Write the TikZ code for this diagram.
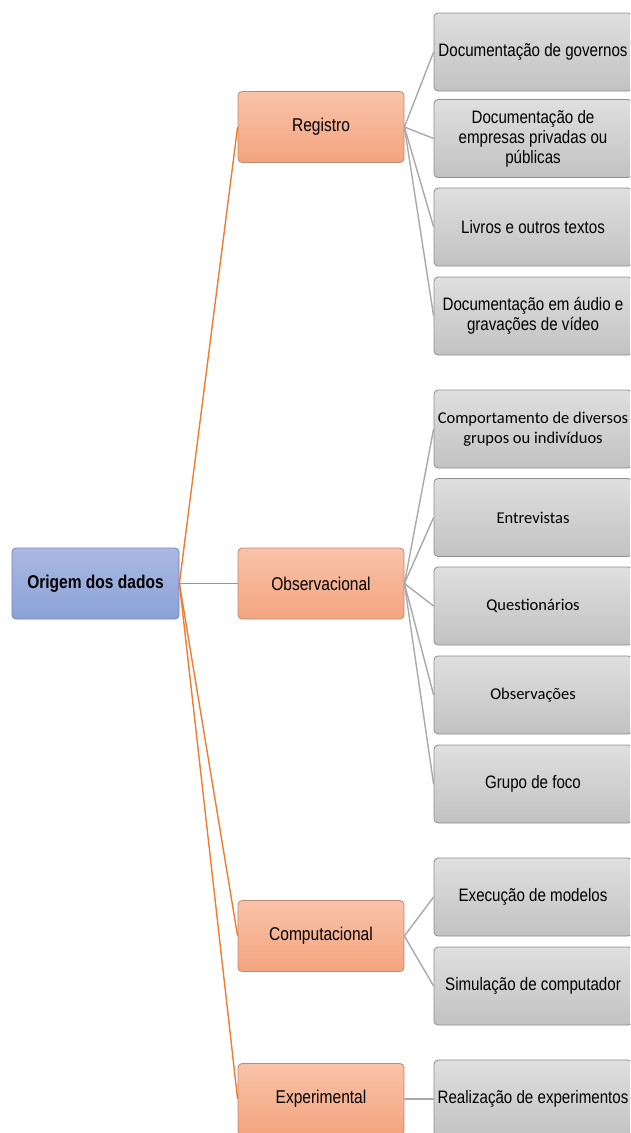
\documentclass[tikz,border=0pt]{standalone}
\usepackage{fontspec}
\setmainfont{Liberation Sans}[FakeStretch=0.84]
\newfontfamily\calib{Carlito}
\definecolor{azulA}{HTML}{AAB9E1}
\definecolor{azulB}{HTML}{8BA2D8}
\definecolor{azulBorda}{HTML}{7484AD}
\definecolor{salmaoA}{HTML}{F9C3A9}
\definecolor{salmaoB}{HTML}{F4A47F}
\definecolor{salmaoBorda}{HTML}{BE8A74}
\definecolor{cinzaA}{HTML}{DFDFDF}
\definecolor{cinzaB}{HTML}{C2C2C2}
\definecolor{cinzaBorda}{HTML}{8E8E8E}
\definecolor{laranja}{HTML}{ED7D31}
\definecolor{linhaCinza}{HTML}{A9A9A9}
\begin{document}
\begin{tikzpicture}[x=1pt,y=-1pt,
    raiz/.style={draw=azulBorda,line width=0.8pt,rounded corners=4pt,top color=azulA,bottom color=azulB,
        minimum width=167pt,minimum height=71pt,font=\fontsize{18.5}{20}\selectfont\bfseries},
    tipo/.style={draw=salmaoBorda,line width=0.8pt,rounded corners=4pt,top color=salmaoA,bottom color=salmaoB,
        minimum width=166pt,minimum height=71pt,font=\fontsize{18.5}{20}\selectfont},
    folha/.style={draw=cinzaBorda,line width=0.8pt,rounded corners=4pt,top color=cinzaA,bottom color=cinzaB,
        minimum width=198pt,minimum height=78pt,align=center,inner sep=1pt,
        font=\fontsize{18}{20}\selectfont},
    folhac/.style={folha,font=\calib\fontsize{16.5}{20}\selectfont},
    ramo/.style={laranja,line width=1.4pt},
    galho/.style={linhaCinza,line width=1.4pt}]
    \useasboundingbox (0,0) rectangle (630,1133);
    \clip (0,0) rectangle (630,1133);
    \fill[white] (0,0) rectangle (630,1133);
    % raiz e tipos
    \node[raiz] (raiz) at (95.5,583.5) {Origem dos dados};
    \node[tipo] (registro) at (321,127) {Registro};
    \node[tipo] (observ) at (321,583.5) {Observacional};
    \node[tipo] (comput) at (321,936) {Computacional};
    \node[tipo] (experim) at (321,1099) {Experimental};
    % folhas
    \node[folha] (r1) at (533,52) {Documentação de governos};
    \node[folha] (r2) at (533,138.5) {Documentação de\\empresas privadas ou\\públicas};
    \node[folha] (r3) at (533,227) {Livros e outros textos};
    \node[folha] (r4) at (533,316) {Documentação em áudio e\\gravações de vídeo};
    \node[folhac] (o1) at (533,429) {Comportamento de diversos\\grupos ou indivíduos};
    \node[folhac] (o2) at (533,517.5) {Entrevistas};
    \node[folhac] (o3) at (533,606) {Questionários};
    \node[folhac] (o4) at (533,695) {Observações};
    \node[folha] (o5) at (533,784) {Grupo de foco};
    \node[folha] (c1) at (533,897) {Execução de modelos};
    \node[folha] (c2) at (533,986) {Simulação de computador};
    \node[folha] (e1) at (533,1099) {Realização de experimentos};
    % ligacoes
    \foreach \t in {registro,observ,comput,experim}
        \draw[ramo] (raiz.east) -- (\t.west);
    \foreach \f in {r1,r2,r3,r4}
        \draw[galho] (registro.east) -- (\f.west);
    \foreach \f in {o1,o2,o3,o4,o5}
        \draw[galho] (observ.east) -- (\f.west);
    \foreach \f in {c1,c2}
        \draw[galho] (comput.east) -- (\f.west);
    \draw[galho] (experim.east) -- (e1.west);
\end{tikzpicture}
\end{document}
